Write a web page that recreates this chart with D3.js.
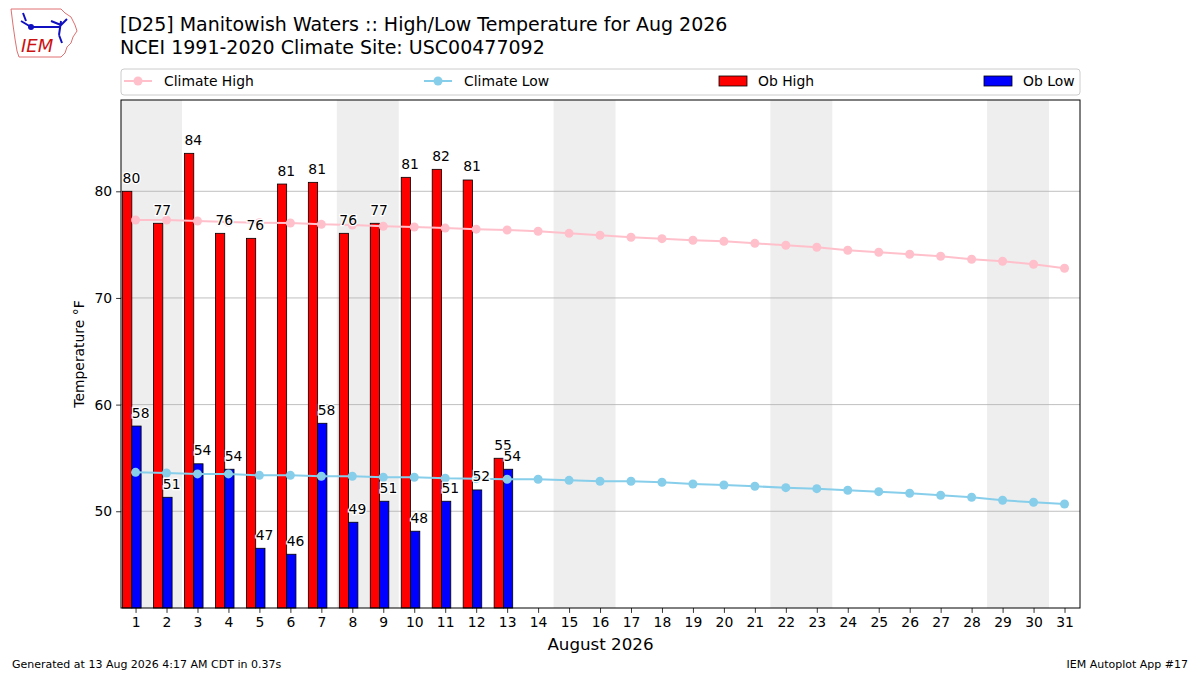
<!DOCTYPE html>
<html>
<head>
<meta charset="utf-8">
<script src="https://cdn.jsdelivr.net/npm/d3@7"></script>
<style>
  body { margin: 0; background: #fff; }
  text { font-family: "DejaVu Sans", sans-serif; }
</style>
</head>
<body>
<div id="chart"></div>
<script>
// days of August 2026
const days = d3.range(1, 32);
// observed values (only up to the 13th)
const obHigh = [80.0, 77.0, 83.56, 76.06, 75.59, 80.68, 80.84, 76.06, 77.0, 81.31, 82.06, 81.06, 54.97];
const obLow = [57.99, 51.31, 54.45, 53.94, 46.53, 45.97, 58.25, 48.97, 50.94, 48.13, 50.94, 52.0, 53.94];
// NCEI 1991-2020 climatology
const climHigh = [77.31, 77.31, 77.22, 77.12, 77.05, 77.03, 76.9, 76.84, 76.72, 76.65, 76.55, 76.45, 76.37,
  76.25, 76.06, 75.88, 75.69, 75.56, 75.41, 75.31, 75.12, 74.94, 74.75, 74.47, 74.28, 74.1, 73.91, 73.63, 73.44, 73.16, 72.78];
const climLow = [53.65, 53.59, 53.5, 53.5, 53.37, 53.37, 53.28, 53.28, 53.19, 53.19, 53.09, 53.06, 53.0,
  53.0, 52.9, 52.81, 52.81, 52.72, 52.56, 52.46, 52.34, 52.21, 52.12, 51.97, 51.84, 51.69, 51.5, 51.31, 51.03, 50.84, 50.68];
// weekend starts (Saturdays)
const saturdays = [1, 8, 15, 22, 29];
const yTicks = [50, 60, 70, 80];

const W = 1200, H = 675;
const margin = {top: 100, right: 120, bottom: 67, left: 121},
    width = W - margin.left - margin.right,
    height = H - margin.top - margin.bottom;

const svg = d3.select("#chart")
  .append("svg")
    .attr("width", W)
    .attr("height", H);

const g = svg.append("g")
    .attr("transform", "translate(" + margin.left + "," + margin.top + ")");

const x = d3.scaleLinear().domain([0.53, 31.5]).range([0, width]);
const y = d3.scaleLinear().domain([40.93, 88.56]).range([height, 0]);

// weekend shading
g.selectAll("rect.wkend")
  .data(saturdays)
  .enter().append("rect")
    .attr("class", "wkend")
    .attr("x", d => Math.max(0, x(d - 0.5)))
    .attr("width", d => x(d + 1.5) - Math.max(0, x(d - 0.5)))
    .attr("y", 0)
    .attr("height", height)
    .attr("fill", "#eeeeee");

// grid
g.selectAll("line.grid")
  .data(yTicks)
  .enter().append("line")
    .attr("x1", 0).attr("x2", width)
    .attr("y1", d => y(d)).attr("y2", d => y(d))
    .attr("stroke", "#b0b0b0")
    .attr("stroke-width", 0.8);

// bars
const obDays = days.slice(0, obHigh.length);
g.selectAll("rect.hi")
  .data(obDays)
  .enter().append("rect")
    .attr("x", d => x(d - 0.42))
    .attr("width", x(0.3) - x(0))
    .attr("y", (d, i) => y(obHigh[i]))
    .attr("height", (d, i) => height - y(obHigh[i]))
    .attr("fill", "#ff0000")
    .attr("stroke", "#000")
    .attr("stroke-width", 0.8);

g.selectAll("rect.lo")
  .data(obDays)
  .enter().append("rect")
    .attr("x", d => x(d - 0.12))
    .attr("width", x(0.3) - x(0))
    .attr("y", (d, i) => y(obLow[i]))
    .attr("height", (d, i) => height - y(obLow[i]))
    .attr("fill", "#0000ff")
    .attr("stroke", "#000")
    .attr("stroke-width", 0.8);

// climate lines
const drawClim = (vals, color) => {
  const line = d3.line().x((d, i) => x(days[i])).y(d => y(d));
  g.append("path")
    .datum(vals)
    .attr("d", line)
    .attr("fill", "none")
    .attr("stroke", color)
    .attr("stroke-width", 2);
  g.selectAll(null)
    .data(vals)
    .enter().append("circle")
      .attr("cx", (d, i) => x(days[i]))
      .attr("cy", d => y(d))
      .attr("r", 4.5)
      .attr("fill", color);
};
drawClim(climHigh, "pink");
drawClim(climLow, "skyblue");

// value labels
const fmt = d3.format(".0f");
const addLabels = (vals, off) => {
  g.selectAll(null)
    .data(vals)
    .enter().append("text")
      .attr("x", (d, i) => x(days[i] + off))
      .attr("y", d => y(d) - 8.5)
      .attr("font-size", "13.9px")
      .attr("fill", "#000")
      .attr("stroke", "#fff")
      .attr("stroke-width", 2.5)
      .attr("paint-order", "stroke")
      .text(d => fmt(d));
};
addLabels(obHigh, -0.42);
addLabels(obLow, -0.12);

// axes
const xAxis = g.append("g")
    .attr("transform", "translate(0," + height + ")")
    .call(d3.axisBottom(x).tickValues(days).tickFormat(d3.format("d")).tickSize(4.9).tickPadding(4));
const yAxis = g.append("g")
    .call(d3.axisLeft(y).tickValues(yTicks).tickSize(4.9).tickPadding(4));
[xAxis, yAxis].forEach(a => {
  a.select(".domain").remove();
  a.selectAll("text").attr("font-size", "13.9px").attr("fill", "#000").style("font-family", "DejaVu Sans");
  a.selectAll("line").attr("stroke", "#000").attr("stroke-width", 0.8);
});

// frame
g.append("rect")
  .attr("width", width).attr("height", height)
  .attr("fill", "none").attr("stroke", "#000").attr("stroke-width", 1);

// axis labels
g.append("text")
  .attr("x", width / 2).attr("y", height + 42)
  .attr("text-anchor", "middle").attr("font-size", "16.7px")
  .text("August 2026");
g.append("text")
  .attr("transform", "translate(-37," + (height / 2) + ")rotate(-90)")
  .attr("text-anchor", "middle").attr("font-size", "13.9px")
  .text("Temperature °F");

// titles
svg.append("text").attr("x", 120).attr("y", 31).attr("font-size", "19px")
  .text("[D25] Manitowish Waters :: High/Low Temperature for Aug 2026");
svg.append("text").attr("x", 120).attr("y", 54).attr("font-size", "19px")
  .text("NCEI 1991-2020 Climate Site: USC00477092");

// legend
const leg = svg.append("g");
leg.append("rect")
  .attr("x", 121).attr("y", 69).attr("width", 959).attr("height", 26)
  .attr("rx", 3).attr("fill", "#fff").attr("stroke", "#cccccc");
const legItems = [
  {label: "Climate High", type: "line", color: "pink", x: 124},
  {label: "Climate Low", type: "line", color: "skyblue", x: 424},
  {label: "Ob High", type: "bar", color: "#ff0000", x: 719},
  {label: "Ob Low", type: "bar", color: "#0000ff", x: 984}
];
legItems.forEach(it => {
  if (it.type === "line") {
    leg.append("line").attr("x1", it.x).attr("x2", it.x + 28).attr("y1", 81).attr("y2", 81)
      .attr("stroke", it.color).attr("stroke-width", 2);
    leg.append("circle").attr("cx", it.x + 14).attr("cy", 81).attr("r", 4.5).attr("fill", it.color);
    leg.append("text").attr("x", it.x + 40).attr("y", 86).attr("font-size", "13.9px").text(it.label);
  } else {
    leg.append("rect").attr("x", it.x).attr("y", 76).attr("width", 28).attr("height", 10)
      .attr("fill", it.color).attr("stroke", "#000").attr("stroke-width", 0.8);
    leg.append("text").attr("x", it.x + 39).attr("y", 86).attr("font-size", "13.9px").text(it.label);
  }
});

// footer
svg.append("text").attr("x", 12).attr("y", 668).attr("font-size", "11px")
  .text("Generated at 13 Aug 2026 4:17 AM CDT in 0.37s");
svg.append("text").attr("x", 1188).attr("y", 668).attr("font-size", "11px").attr("text-anchor", "end")
  .text("IEM Autoplot App #17");

// simple IEM logo
const logo = svg.append("g").attr("transform", "translate(9,7)");
logo.append("path")
  .attr("d", "M2,2 L52,2 L56,6 L62,10 L66,18 L68,24 L64,30 L62,36 L58,40 L56,46 L52,50 L10,50 L8,44 L6,32 L4,18 Z")
  .attr("fill", "none").attr("stroke", "#e07070").attr("stroke-width", 1);
logo.append("path")
  .attr("d", "M14,6 L17,14 M12,14 L22,20 M22,20 L52,20 M52,14 L50,28 M42,14 L52,18 L58,12 M50,28 L53,36")
  .attr("fill", "none").attr("stroke", "#1010c0").attr("stroke-width", 2);
logo.append("circle").attr("cx", 22).attr("cy", 20).attr("r", 3).attr("fill", "#1010c0");
logo.append("text").attr("x", 12).attr("y", 45)
  .attr("font-family", "Liberation Serif, serif").attr("font-style", "italic")
  .attr("font-size", "18px").attr("fill", "#cc1111").text("IEM");
</script>
</body>
</html>
